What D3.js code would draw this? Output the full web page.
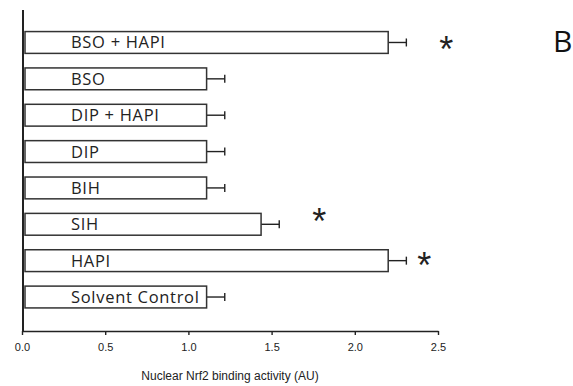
<!DOCTYPE html>
<html>
<head>
<meta charset="utf-8">
<script src="https://cdn.jsdelivr.net/npm/d3@7"></script>
<style>
  body { margin: 0; background: #fff; }
  svg { display: block; }
</style>
</head>
<body>
<figure id="bars" style="margin:0"></figure>
<script>
// treatment groups, top to bottom
const groups = ["BSO + HAPI", "BSO", "DIP + HAPI", "DIP", "BIH", "SIH", "HAPI", "Solvent Control"];
const activity = [2.0, 1.0, 1.0, 1.0, 1.0, 1.3, 2.0, 1.0];
const errors = [0.1, 0.1, 0.1, 0.1, 0.1, 0.1, 0.1, 0.1];
const significant = [true, false, false, false, false, true, true, false];
const xTicks = [0, 0.5, 1.0, 1.5, 2.0, 2.5];

const width = 573, height = 386;

const svg = d3.select("figure#bars")
  .append("svg")
  .attr("width", width)
  .attr("height", height);

// axis scale
const xAxis = d3.scaleLinear()
  .domain([0, 2.5])
  .range([22, 438]);

// the bars in the source panel are drawn on a slightly stretched scale
const x = d3.scaleLinear()
  .domain([0, 2.5])
  .range([25, 479]);

const y = d3.scaleBand()
  .domain(groups)
  .range([24.3, 315.2])
  .paddingInner(0.4)
  .paddingOuter(0.2);

const data = groups.map((g, i) => ({ group: g, value: activity[i], err: errors[i], sig: significant[i] }));

// X axis
const gx = svg.append("g")
  .attr("transform", "translate(0,331)")
  .call(d3.axisBottom(xAxis).tickValues(xTicks).tickFormat(d3.format(".1f")).tickSize(4).tickSizeOuter(0).tickPadding(8));
gx.select(".domain").attr("stroke", "#222").attr("stroke-width", 1.6);
gx.selectAll(".tick line").attr("stroke", "#222").attr("stroke-width", 1.4);
gx.selectAll(".tick text")
  .attr("font-family", "Liberation Sans, Arial, sans-serif")
  .attr("font-size", 11)
  .attr("fill", "#222");

// X label
svg.append("text")
  .attr("x", (xAxis(0) + xAxis(2.5)) / 2)
  .attr("y", 380)
  .attr("text-anchor", "middle")
  .attr("font-family", "Liberation Sans, Arial, sans-serif")
  .attr("font-size", 12)
  .attr("fill", "#222")
  .text("Nuclear Nrf2 binding activity (AU)");

// Y axis line (no ticks)
svg.append("line")
  .attr("x1", 23).attr("x2", 23)
  .attr("y1", 10).attr("y2", 331)
  .attr("stroke", "#222")
  .attr("stroke-width", 2);

const rows = svg.append("g");

const row = rows.selectAll("g")
  .data(data)
  .enter()
  .append("g");

// error bars
row.append("line")
  .attr("x1", d => x(d.value))
  .attr("x2", d => x(d.value + d.err))
  .attr("y1", d => y(d.group) + y.bandwidth() / 2)
  .attr("y2", d => y(d.group) + y.bandwidth() / 2)
  .attr("stroke", "#222")
  .attr("stroke-width", 1.4);
row.append("line")
  .attr("x1", d => x(d.value + d.err))
  .attr("x2", d => x(d.value + d.err))
  .attr("y1", d => y(d.group) + y.bandwidth() / 2 - 4)
  .attr("y2", d => y(d.group) + y.bandwidth() / 2 + 4)
  .attr("stroke", "#222")
  .attr("stroke-width", 1.4);

// bars
row.append("rect")
  .attr("x", x(0))
  .attr("y", d => y(d.group))
  .attr("width", d => x(d.value) - x(0))
  .attr("height", y.bandwidth())
  .attr("fill", "#fff")
  .attr("stroke", "#333")
  .attr("stroke-width", 1.5);

// labels inside bars
row.append("text")
  .attr("x", 71)
  .attr("y", d => y(d.group) + y.bandwidth() / 2 + 6)
  .attr("font-family", "Open Sans, sans-serif")
  .attr("font-size", 16.5)
  .attr("letter-spacing", 0.7)
  .attr("fill", "#222")
  .text(d => d.group);

// asterisks - nudged by hand like the original
const starNudge = { "BSO + HAPI": [40, 0], "SIH": [40, -10], "HAPI": [18, -3] };
row.filter(d => d.sig)
  .append("text")
  .attr("x", d => x(d.value + d.err) + starNudge[d.group][0])
  .attr("y", d => y(d.group) + y.bandwidth() / 2 + starNudge[d.group][1] + 20)
  .attr("text-anchor", "middle")
  .attr("font-family", "Liberation Sans, Arial, sans-serif")
  .attr("font-size", 36)
  .attr("fill", "#222")
  .text("*");

// panel letter
svg.append("text")
  .attr("x", 553)
  .attr("y", 52)
  .attr("font-family", "Open Sans, sans-serif")
  .attr("font-size", 30)
  .attr("fill", "#111")
  .text("B");
</script>
</body>
</html>
